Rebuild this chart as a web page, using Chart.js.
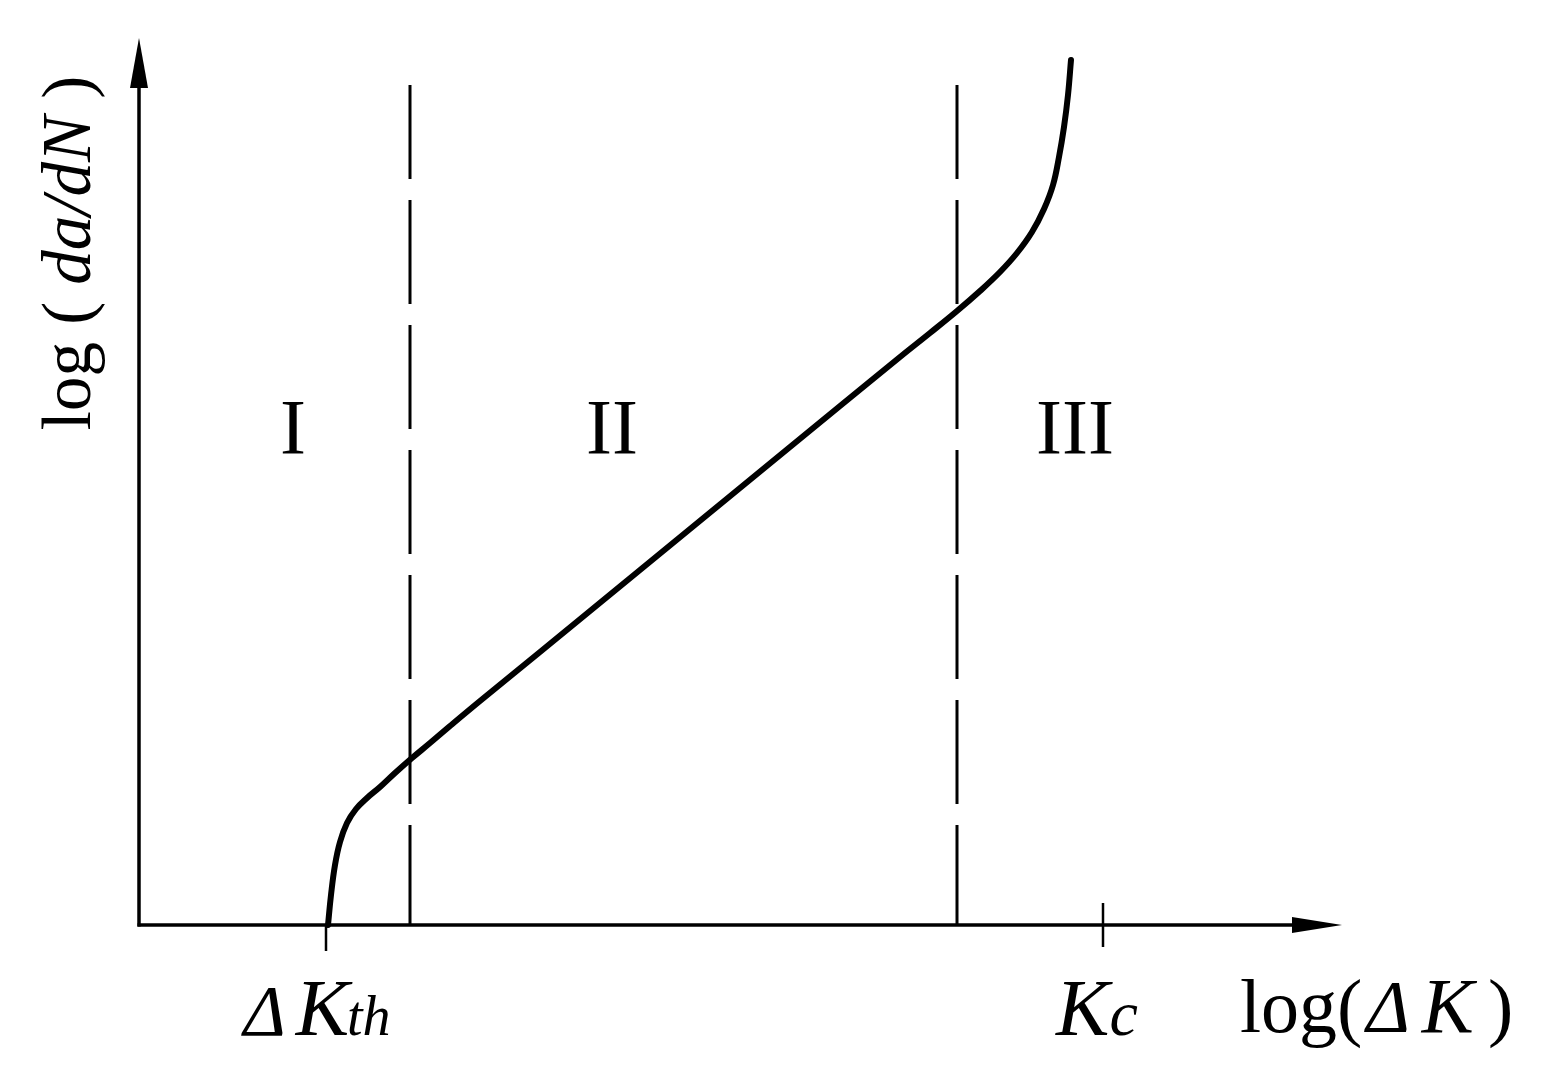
<!DOCTYPE html>
<html>
<head>
<meta charset="utf-8">
<script src="https://cdn.jsdelivr.net/npm/chart.js@4/dist/chart.umd.min.js"></script>
<style>
  html, body { margin: 0; padding: 0; background: #ffffff; }
  #wrap { width: 1551px; height: 1076px; position: relative; }
</style>
</head>
<body>
<div id="wrap"><canvas id="c"></canvas></div>
<script>
// ---- data (arbitrary log units) ----
const curveX = [18.8, 19.1, 19.5, 20.0, 20.7, 21.6, 22.7, 24.0, 25.5, 27.2, 29.0, 31.0, 34.0, 40.0, 50.0, 60.0, 70.0, 76.0, 79.0, 81.7, 84.0, 86.0, 87.7, 89.2, 90.4, 91.3, 91.9, 92.4, 92.8, 93.1];
const curveY = [0.0, 3.0, 6.0, 8.3, 10.2, 11.6, 12.7, 13.8, 15.2, 16.7, 18.2, 19.9, 22.4, 27.3, 35.5, 43.7, 51.9, 56.8, 59.2, 61.4, 63.4, 65.3, 67.2, 69.3, 71.6, 74.0, 76.8, 79.8, 83.0, 86.5];
const boundaryX = [27.0, 81.7];
const boundaryTop = 84.0;
const regionLabels = ['I', 'II', 'III'];
const regionLabelX = [15.3, 47.2, 93.5];
const regionLabelY = 47.2;
const tickValues = [18.6, 96.3];
const tickLabels = [['\u0394', 'K', 'th'], ['K', 'c']];
const xTitle = ['log(', '\u0394', 'K', ')'];
const yTitle = ['log ( ', 'da/dN', ' )'];
const xMax = 120, yMax = 88.5;

const SERIF = '"Liberation Serif", "Times New Roman", serif';

const drawPlugin = {
  id: 'schematic',
  afterDatasetsDraw(chart) {
    const ctx = chart.ctx;
    const xs = chart.scales.x, ys = chart.scales.y;
    const x0 = xs.getPixelForValue(0), y0 = ys.getPixelForValue(0);
    const xEnd = xs.getPixelForValue(xMax), yEnd = ys.getPixelForValue(yMax);
    ctx.save();
    ctx.strokeStyle = '#000'; ctx.fillStyle = '#000';
    ctx.lineWidth = 3.5; ctx.lineCap = 'butt';
    // y axis
    ctx.beginPath(); ctx.moveTo(x0 - 1, y0 + 1.5); ctx.lineTo(x0 - 1, yEnd + 40); ctx.stroke();
    ctx.beginPath(); ctx.moveTo(x0 - 1, yEnd - 2); ctx.lineTo(x0 - 10, yEnd + 48); ctx.lineTo(x0 + 8, yEnd + 48); ctx.closePath(); ctx.fill();
    // x axis
    ctx.beginPath(); ctx.moveTo(x0 - 2.5, y0); ctx.lineTo(xEnd - 40, y0); ctx.stroke();
    ctx.beginPath(); ctx.moveTo(xEnd + 2, y0); ctx.lineTo(xEnd - 48, y0 - 8); ctx.lineTo(xEnd - 48, y0 + 8); ctx.closePath(); ctx.fill();
    // ticks
    ctx.lineWidth = 2.5;
    const t1 = xs.getPixelForValue(tickValues[0]);
    ctx.beginPath(); ctx.moveTo(t1, y0); ctx.lineTo(t1, y0 + 26); ctx.stroke();
    const t2 = xs.getPixelForValue(tickValues[1]);
    ctx.beginPath(); ctx.moveTo(t2, y0 - 22); ctx.lineTo(t2, y0 + 22); ctx.stroke();

    function drawSegs(segs, startX, baseY) {
      let x = startX;
      segs.forEach(s => {
        ctx.font = s.font;
        x += (s.pre || 0);
        ctx.fillText(s.t, x, baseY);
        x += ctx.measureText(s.t).width;
      });
      return x;
    }
    function widthSegs(segs) {
      let w = 0;
      segs.forEach(s => { ctx.font = s.font; w += (s.pre || 0) + ctx.measureText(s.t).width; });
      return w;
    }
    ctx.textBaseline = 'alphabetic'; ctx.textAlign = 'left';

    // region labels
    ctx.font = '78px ' + SERIF;
    ctx.textAlign = 'center';
    regionLabels.forEach((t, i) => {
      ctx.fillText(t, xs.getPixelForValue(regionLabelX[i]), ys.getPixelForValue(regionLabelY));
    });
    ctx.textAlign = 'left';

    // tick labels
    const base = y0 + 110;
    const seg1 = [
      { t: tickLabels[0][0], font: 'italic 72px ' + SERIF },
      { t: tickLabels[0][1], font: 'italic 80px ' + SERIF, pre: 10 },
      { t: tickLabels[0][2], font: 'italic 56px ' + SERIF, pre: -2 }
    ];
    drawSegs(seg1, t1 - 9 - widthSegs(seg1) / 2, base);
    const seg2 = [
      { t: tickLabels[1][0], font: 'italic 80px ' + SERIF },
      { t: tickLabels[1][1], font: 'italic 64px ' + SERIF, pre: 0 }
    ];
    drawSegs(seg2, t2 - 6 - widthSegs(seg2) / 2, base);

    // x title
    const segX = [
      { t: xTitle[0], font: '76px ' + SERIF },
      { t: xTitle[1], font: 'italic 74px ' + SERIF, pre: 4 },
      { t: xTitle[2], font: 'italic 78px ' + SERIF, pre: 12 },
      { t: xTitle[3], font: '76px ' + SERIF, pre: 14 }
    ];
    drawSegs(segX, xEnd - 100, base - 3);

    // y title (rotated)
    const segY = [
      { t: yTitle[0], font: '69px ' + SERIF },
      { t: yTitle[1], font: 'italic 69px ' + SERIF },
      { t: yTitle[2], font: '69px ' + SERIF }
    ];
    ctx.save();
    ctx.translate(x0 - 50, 253);
    ctx.rotate(-Math.PI / 2);
    drawSegs(segY, -widthSegs(segY) / 2, 0);
    ctx.restore();

    ctx.restore();
  }
};

const curveData = curveX.map((x, i) => ({ x: x, y: curveY[i] }));
const boundaryData = boundaryX.map(x => [{ x: x, y: boundaryTop }, { x: x, y: 0 }]);

new Chart(document.getElementById('c'), {
  type: 'line',
  data: {
    datasets: [
      {
        label: 'da/dN',
        data: curveData,
        borderColor: '#000',
        borderWidth: 6,
        pointRadius: 0,
        tension: 0.4,
        borderCapStyle: 'round',
        borderJoinStyle: 'round',
        fill: false,
        clip: false
      },
      {
        label: 'boundary I/II',
        data: boundaryData[0],
        borderColor: '#000',
        borderWidth: 3,
        borderDash: [104, 21],
        borderDashOffset: 10,
        pointRadius: 0,
        fill: false,
        clip: false
      },
      {
        label: 'boundary II/III',
        data: boundaryData[1],
        borderColor: '#000',
        borderWidth: 3,
        borderDash: [104, 21],
        borderDashOffset: 10,
        pointRadius: 0,
        fill: false,
        clip: false
      }
    ]
  },
  options: {
    responsive: true,
    maintainAspectRatio: false,
    animation: false,
    events: [],
    layout: { padding: { left: 140, right: 211, top: 40, bottom: 151 } },
    scales: {
      x: { type: 'linear', min: 0, max: xMax, display: false },
      y: { type: 'linear', min: 0, max: yMax, display: false }
    },
    plugins: {
      legend: { display: false },
      tooltip: { enabled: false },
      title: { display: false }
    }
  },
  plugins: [drawPlugin]
});
</script>
</body>
</html>
